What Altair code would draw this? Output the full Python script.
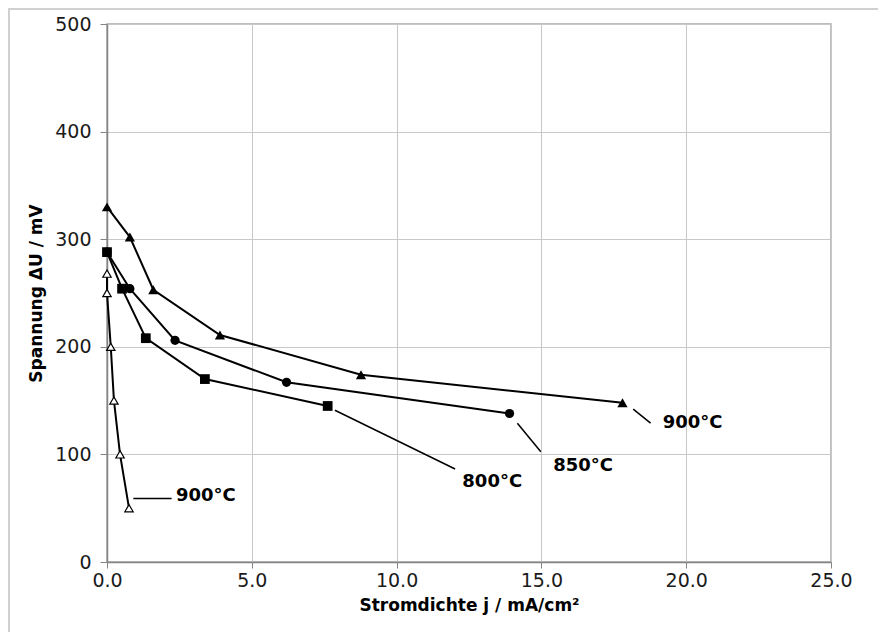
import altair as alt
import pandas as pd

# ---- data ----
series_names = ["900°C", "850°C", "800°C", "900°C (2)"]
j_900 = [0.0, 0.79, 1.6, 3.9, 8.77, 17.8]
u_900 = [330, 302, 253, 211, 174, 148]
j_850 = [0.0, 0.79, 2.35, 6.2, 13.9]
u_850 = [288, 254, 206, 167, 138]
j_800 = [0.0, 0.52, 1.34, 3.38, 7.62]
u_800 = [288, 254, 208, 170, 145]
j_900b = [0.0, 0.0, 0.13, 0.24, 0.45, 0.76]
u_900b = [268, 250, 200, 150, 100, 50]

label_text = ["900°C", "850°C", "800°C", "900°C"]
label_j = [19.19, 15.41, 12.27, 2.38]
label_u = [129, 89, 74, 61]
leader_j1 = [18.17, 14.17, 7.87, 0.91]
leader_u1 = [142, 129, 141, 59]
leader_j2 = [18.77, 14.98, 12.02, 2.23]
leader_u2 = [129, 102.5, 86.4, 59]

x_ticks = [0, 5, 10, 15, 20, 25]
y_ticks = [0, 100, 200, 300, 400, 500]

FONT = "DejaVu Sans"


def frame(js, us, name):
    return pd.DataFrame({"j": js, "U": us, "series": name, "idx": list(range(len(js)))})


df900 = frame(j_900, u_900, series_names[0])
df850 = frame(j_850, u_850, series_names[1])
df800 = frame(j_800, u_800, series_names[2])
df900b = frame(j_900b, u_900b, series_names[3])

labels = pd.DataFrame({"t": label_text, "j": label_j, "U": label_u})
leaders = pd.DataFrame({"j1": leader_j1, "u1": leader_u1, "j2": leader_j2, "u2": leader_u2})

xscale = alt.Scale(domain=[0, 25], nice=False, zero=False)
yscale = alt.Scale(domain=[0, 500], nice=False)

x_enc = alt.X(
    "j:Q",
    scale=xscale,
    axis=alt.Axis(
        values=x_ticks,
        format=".1f",
        title="Stromdichte j / mA/cm²",
        labelFlush=False,
    ),
)
y_enc = alt.Y(
    "U:Q",
    scale=yscale,
    axis=alt.Axis(values=y_ticks, title="Spannung ΔU / mV", labelFlush=False),
)


def line_layer(df):
    return alt.Chart(df).mark_line(color="black", strokeWidth=2).encode(
        x=x_enc, y=y_enc, order=alt.Order("idx:Q")
    )


lines = [line_layer(d) for d in (df900, df850, df800, df900b)]

pts900 = alt.Chart(df900).mark_point(
    shape="triangle-up", filled=True, color="black", size=105, opacity=1
).encode(x="j:Q", y="U:Q")
pts850 = alt.Chart(df850).mark_point(
    shape="circle", filled=True, color="black", size=85, opacity=1
).encode(x="j:Q", y="U:Q")
pts800 = alt.Chart(df800).mark_point(
    shape="square", filled=True, color="black", size=95, opacity=1
).encode(x="j:Q", y="U:Q")
pts900b = alt.Chart(df900b).mark_point(
    shape="triangle-up", filled=True, fill="white", stroke="black",
    strokeWidth=1.2, size=70, opacity=1
).encode(x="j:Q", y="U:Q")

leader_rules = alt.Chart(leaders).mark_rule(color="black", strokeWidth=1.5).encode(
    x="j1:Q", y="u1:Q", x2="j2:Q", y2="u2:Q"
)
label_marks = alt.Chart(labels).mark_text(
    font=FONT, fontSize=18, fontWeight="bold", align="left", baseline="middle", color="black"
).encode(x="j:Q", y="U:Q", text="t:N")

border = alt.Chart(pd.DataFrame({"a": [0]})).mark_rect(
    filled=False, stroke="#d0d0d0", strokeWidth=2
).encode(x=alt.value(-98), x2=alt.value(900), y=alt.value(-15), y2=alt.value(800))

chart = alt.layer(
    border, *lines, pts900, pts850, pts800, pts900b, leader_rules, label_marks
).properties(
    width=724,
    height=538,
    autosize="none",
    padding={"left": 99, "top": 16, "right": 47, "bottom": 70},
    background="white",
).configure_view(
    stroke="#a8a8a8", strokeWidth=1.5
).configure_axis(
    grid=True,
    gridColor="#c8c8c8",
    gridWidth=1,
    domainColor="#858585",
    domainWidth=1.5,
    tickColor="#858585",
    tickSize=6,
    labelFont=FONT,
    labelFontSize=19,
    labelColor="#1a1a1a",
    titleFont=FONT,
    titleFontSize=17,
    titleFontWeight="bold",
    titleColor="black",
).configure_axisX(
    labelPadding=3, titlePadding=7
).configure_axisY(
    tickSize=7, labelPadding=9, titlePadding=9
)

chart.save("out.html", embed_options={"renderer": "svg", "actions": False})
